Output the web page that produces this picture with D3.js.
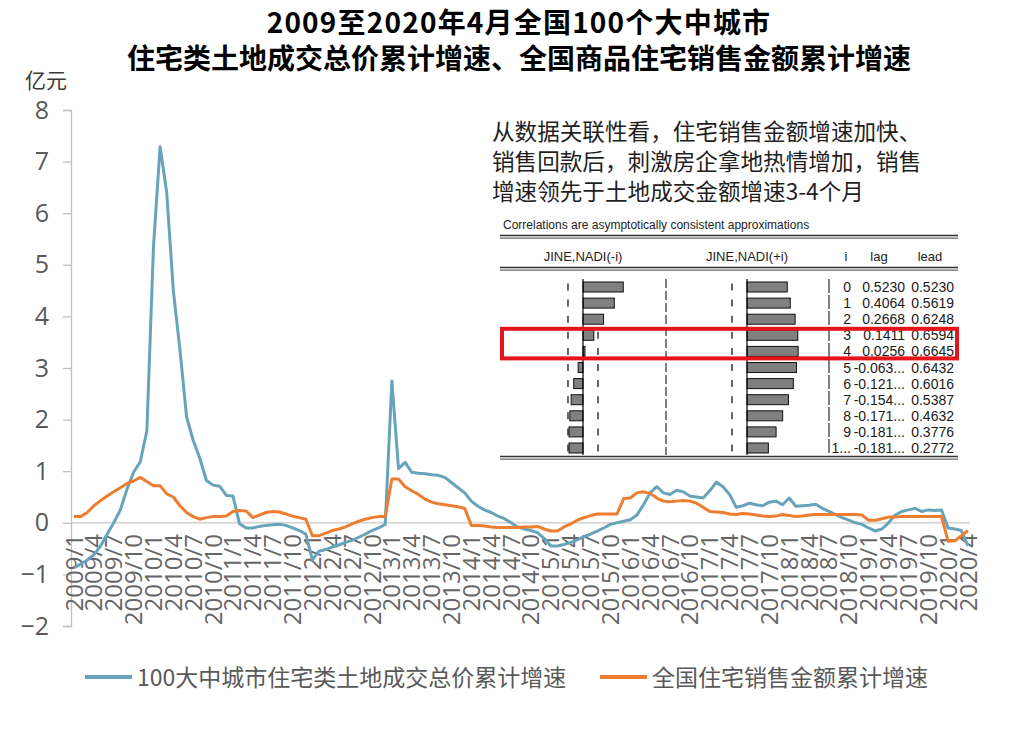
<!DOCTYPE html>
<html><head><meta charset="utf-8">
<script src="https://cdn.jsdelivr.net/npm/d3@7"></script>
<style>
html,body{margin:0;padding:0;background:#fff;}
svg{display:block;}
</style></head><body>
<script>
// ---------- data ----------
const startYear = 2009, endYear = 2020, endMonth = 4;
const months = [];
for (let yr = startYear; yr <= endYear; yr++) {
  for (let m = 1; m <= 12; m++) {
    if (yr === endYear && m > endMonth) break;
    months.push(yr + "/" + m);
  }
}
// 100大中城市住宅类土地成交总价累计增速
const landGrowth = [
 -0.87,-0.80,-0.72,-0.62,-0.45,-0.22,0.00,0.25,0.65,0.98,1.18,1.78,
 5.35,7.29,6.40,4.50,3.35,2.05,1.60,1.25,0.82,0.73,0.71,0.53,
 0.52,-0.02,-0.10,-0.10,-0.07,-0.05,-0.04,-0.03,-0.05,-0.10,-0.15,-0.22,
 -0.72,-0.55,-0.52,-0.47,-0.43,-0.38,-0.34,-0.28,-0.22,-0.15,-0.10,-0.03,
 2.75,1.05,1.17,0.98,0.96,0.95,0.93,0.92,0.88,0.78,0.68,0.58,
 0.42,0.32,0.25,0.20,0.13,0.08,0.00,-0.08,-0.12,-0.15,-0.19,-0.30,
 -0.45,-0.45,-0.42,-0.38,-0.33,-0.27,-0.22,-0.16,-0.10,-0.03,0.00,0.03,
 0.06,0.15,0.35,0.58,0.70,0.58,0.55,0.63,0.60,0.52,0.50,0.48,
 0.62,0.79,0.70,0.55,0.30,0.33,0.38,0.35,0.33,0.40,0.42,0.35,
 0.48,0.32,0.33,0.34,0.36,0.28,0.22,0.16,0.10,0.05,0.00,-0.03,
 -0.10,-0.16,-0.12,0.00,0.15,0.22,0.25,0.28,0.22,0.25,0.24,0.25,
 -0.10,-0.12,-0.15,-0.45
];
// 全国住宅销售金额累计增速
const salesGrowth = [
 0.12,0.12,0.20,0.33,0.43,0.52,0.60,0.68,0.76,0.81,0.88,0.80,
 0.72,0.72,0.56,0.50,0.33,0.20,0.12,0.07,0.10,0.12,0.12,0.13,
 0.22,0.24,0.23,0.10,0.15,0.20,0.22,0.21,0.17,0.13,0.10,0.07,
 -0.25,-0.25,-0.20,-0.15,-0.12,-0.08,-0.02,0.03,0.07,0.10,0.12,0.12,
 0.85,0.85,0.70,0.62,0.55,0.46,0.40,0.37,0.35,0.33,0.31,0.28,
 -0.05,-0.05,-0.06,-0.08,-0.09,-0.09,-0.09,-0.09,-0.08,-0.08,-0.07,-0.12,
 -0.16,-0.16,-0.08,-0.02,0.05,0.10,0.14,0.17,0.17,0.17,0.17,0.47,
 0.48,0.58,0.60,0.57,0.48,0.42,0.41,0.42,0.43,0.42,0.38,0.30,
 0.22,0.21,0.20,0.17,0.16,0.18,0.17,0.15,0.13,0.12,0.13,0.16,
 0.14,0.12,0.13,0.15,0.16,0.16,0.16,0.16,0.16,0.16,0.16,0.15,
 0.05,0.05,0.08,0.11,0.11,0.12,0.12,0.12,0.12,0.12,0.12,0.12,
 -0.36,-0.35,-0.25,-0.15
];
const yTicks = [-2,-1,0,1,2,3,4,5,6,7,8];
const yUnit = "亿元";
const titleLines = ["2009至2020年4月全国100个大中城市","住宅类土地成交总价累计增速、全国商品住宅销售金额累计增速"];
const noteLines = ["从数据关联性看，住宅销售金额增速加快、","销售回款后，刺激房企拿地热情增加，销售","增速领先于土地成交金额增速3-4个月"];
const seriesNames = ["100大中城市住宅类土地成交总价累计增速","全国住宅销售金额累计增速"];
const seriesColors = ["#67a4bc","#ed7d31"];
// correlogram table
const corrCaption = "Correlations are asymptotically consistent approximations";
const corrHeaders = ["JINE,NADI(-i)","JINE,NADI(+i)","i","lag","lead"];
const corrI = ["0","1","2","3","4","5","6","7","8","9","1..."];
const corrLag = [0.5230,0.4064,0.2668,0.1411,0.0256,-0.063,-0.121,-0.154,-0.171,-0.181,-0.181];
const corrLagText = ["0.5230","0.4064","0.2668","0.1411","0.0256","-0.063...","-0.121...","-0.154...","-0.171...","-0.181...","-0.181..."];
const corrLead = [0.5230,0.5619,0.6248,0.6594,0.6645,0.6432,0.6016,0.5387,0.4632,0.3776,0.2772];
const corrLeadText = ["0.5230","0.5619","0.6248","0.6594","0.6645","0.6432","0.6016","0.5387","0.4632","0.3776","0.2772"];
const corrBand = 0.195;
const highlightRows = [3,4];

// ---------- drawing ----------
const W = 1016, H = 744;
const svg = d3.select("body").append("svg").attr("width", W).attr("height", H);
const cjk = "'Noto Sans CJK SC','Noto Sans',sans-serif";
const latin = "'Open Sans','Noto Sans CJK SC',sans-serif";
const arial = "'Liberation Sans',Arial,sans-serif";

// title (one text block, two lines)
const title = svg.append("text")
  .attr("text-anchor","middle")
  .attr("font-family", cjk).attr("font-weight", 700)
  .attr("font-size", 28).attr("fill","#000");
title.selectAll("tspan").data(titleLines).join("tspan")
  .attr("x", 519).attr("y", (d,i) => 33 + i*36)
  .attr("letter-spacing", (d,i) => i === 0 ? 1.2 : 0)
  .text(d => d);

// unit
svg.append("text").attr("x", 25).attr("y", 88)
  .attr("font-family", cjk).attr("font-size", 21).attr("fill","#3a3a3a").text(yUnit);

const x = d3.scalePoint().domain(months).range([74, 968]);
const y = d3.scaleLinear().domain([-2, 8]).range([626, 110]);

// zero line
svg.append("line").attr("x1", 71).attr("x2", 970).attr("y1", y(0)).attr("y2", y(0))
  .attr("stroke","#d9d9d9").attr("stroke-width", 2);

// y axis
const yAxis = svg.append("g").attr("transform","translate(71,0)")
  .call(d3.axisLeft(y).tickValues(yTicks).tickSize(8).tickPadding(14).tickFormat(d3.format("d")));
yAxis.select(".domain").attr("stroke","#bfbfbf").attr("stroke-width",1.3);
yAxis.selectAll(".tick line").attr("stroke","#bfbfbf").attr("stroke-width",1.3);
yAxis.selectAll(".tick text").attr("font-family", latin).attr("font-size", 25).attr("fill","#595959");

// x labels
const xLabels = months.filter((m,i) => i % 3 === 0);
svg.append("g").selectAll("text").data(xLabels).join("text")
  .attr("transform", d => `translate(${x(d)+8.5},534) rotate(-90)`)
  .attr("text-anchor","end")
  .attr("font-family", latin).attr("font-size", 24).attr("fill","#666").text(d => d);

// lines
const line = d3.line().x((d,i) => x(months[i])).y(d => y(d));
[landGrowth, salesGrowth].forEach((s, k) => {
  svg.append("path").datum(s).attr("d", line).attr("fill","none")
    .attr("stroke", seriesColors[k]).attr("stroke-width", 3)
    .attr("stroke-linejoin","round");
});

// legend
const legendX = [85, 600];
seriesNames.forEach((n, k) => {
  svg.append("line").attr("x1", legendX[k]).attr("x2", legendX[k]+47)
    .attr("y1", 677).attr("y2", 677).attr("stroke", seriesColors[k]).attr("stroke-width", 4);
  svg.append("text").attr("x", legendX[k]+52).attr("y", 686)
    .attr("font-family", cjk).attr("font-size", 23).attr("fill","#595959").text(n);
});

// note (one text block, three lines)
const note = svg.append("text")
  .attr("font-family", cjk).attr("font-size", 22.6).attr("fill","#1f1f1f");
note.selectAll("tspan").data(noteLines).join("tspan")
  .attr("x", 492).attr("y", (d,i) => 140 + i*30).text(d => d);

// table
const tg = svg.append("g");
tg.append("rect").attr("x", 499).attr("y", 212).attr("width", 461).attr("height", 252).attr("fill","#fff");
tg.append("text").attr("x", 503).attr("y", 229).attr("font-family", arial).attr("font-size", 12)
  .attr("fill","#222").text(corrCaption);
function dbl(yy) {
  tg.append("line").attr("x1",500).attr("x2",958).attr("y1",yy).attr("y2",yy).attr("stroke","#333").attr("stroke-width",1.6);
  tg.append("line").attr("x1",500).attr("x2",958).attr("y1",yy+2.6).attr("y2",yy+2.6).attr("stroke","#666").attr("stroke-width",1.4);
}
dbl(235.5); dbl(267.5); dbl(456.5);
const hdrX = [583, 747, 846, 879, 930];
tg.selectAll("text.hdr").data(corrHeaders).join("text").attr("class","hdr")
  .attr("x", (d,i) => hdrX[i]).attr("y", 261).attr("text-anchor","middle")
  .attr("font-family", arial).attr("font-size", 13).attr("fill","#222").text(d => d);

const rows = d3.range(corrI.length);
const ry = d3.scalePoint().domain(rows).range([287, 448]);
const xl = d3.scaleLinear().domain([0, 1]).range([583, 660]);
const xr = d3.scaleLinear().domain([0, 1]).range([747, 824]);
const tTop = 279, tBot = 455;

// band dashes
[xl, xr].forEach(sc => {
  [-corrBand, corrBand].forEach(b => {
    tg.append("g").selectAll("line").data(rows).join("line")
      .attr("x1", sc(b)).attr("x2", sc(b)).attr("y1", r => ry(r)-3.5).attr("y2", r => ry(r)+3.5)
      .attr("stroke","#000").attr("stroke-width",1.2);
  });
});
// separators
tg.append("line").attr("x1",666).attr("x2",666).attr("y1",tTop).attr("y2",tBot)
  .attr("stroke","#000").attr("stroke-width",1).attr("stroke-dasharray","9,3");
tg.append("line").attr("x1",829).attr("x2",829).attr("y1",tTop).attr("y2",tBot)
  .attr("stroke","#000").attr("stroke-width",1).attr("stroke-dasharray","14,2");
// bars
tg.append("g").selectAll("rect").data(corrLag).join("rect")
  .attr("x", d => Math.min(xl(0), xl(d))).attr("width", d => Math.abs(xl(d)-xl(0)))
  .attr("y", (d,i) => ry(i)-5).attr("height", 10)
  .attr("fill","#808080").attr("stroke","#111").attr("stroke-width",1);
tg.append("g").selectAll("rect").data(corrLead).join("rect")
  .attr("x", d => Math.min(xr(0), xr(d))).attr("width", d => Math.abs(xr(d)-xr(0)))
  .attr("y", (d,i) => ry(i)-5).attr("height", 10)
  .attr("fill","#808080").attr("stroke","#111").attr("stroke-width",1);
[xl, xr].forEach(sc => {
  tg.append("line").attr("x1", sc(0)).attr("x2", sc(0)).attr("y1", tTop).attr("y2", tBot)
    .attr("stroke","#000").attr("stroke-width",1.2);
});
// numbers
const colTexts = [[corrI, 851], [corrLagText, 905], [corrLeadText, 954]];
colTexts.forEach(([arr, ax]) => {
  tg.append("g").selectAll("text").data(arr).join("text")
    .attr("x", ax).attr("y", (d,i) => ry(i)+5).attr("text-anchor","end")
    .attr("font-family", arial).attr("font-size", 14).attr("fill","#1a1a1a").text(d => d);
});
// highlight
const hy0 = ry(highlightRows[0]) - 6.5, hy1 = ry(highlightRows[1]) + 7;
tg.append("rect").attr("x", 502).attr("y", hy0).attr("width", 455).attr("height", hy1-hy0)
  .attr("fill","none").attr("stroke","#e3151a").attr("stroke-width",4);
</script>
</body></html>
